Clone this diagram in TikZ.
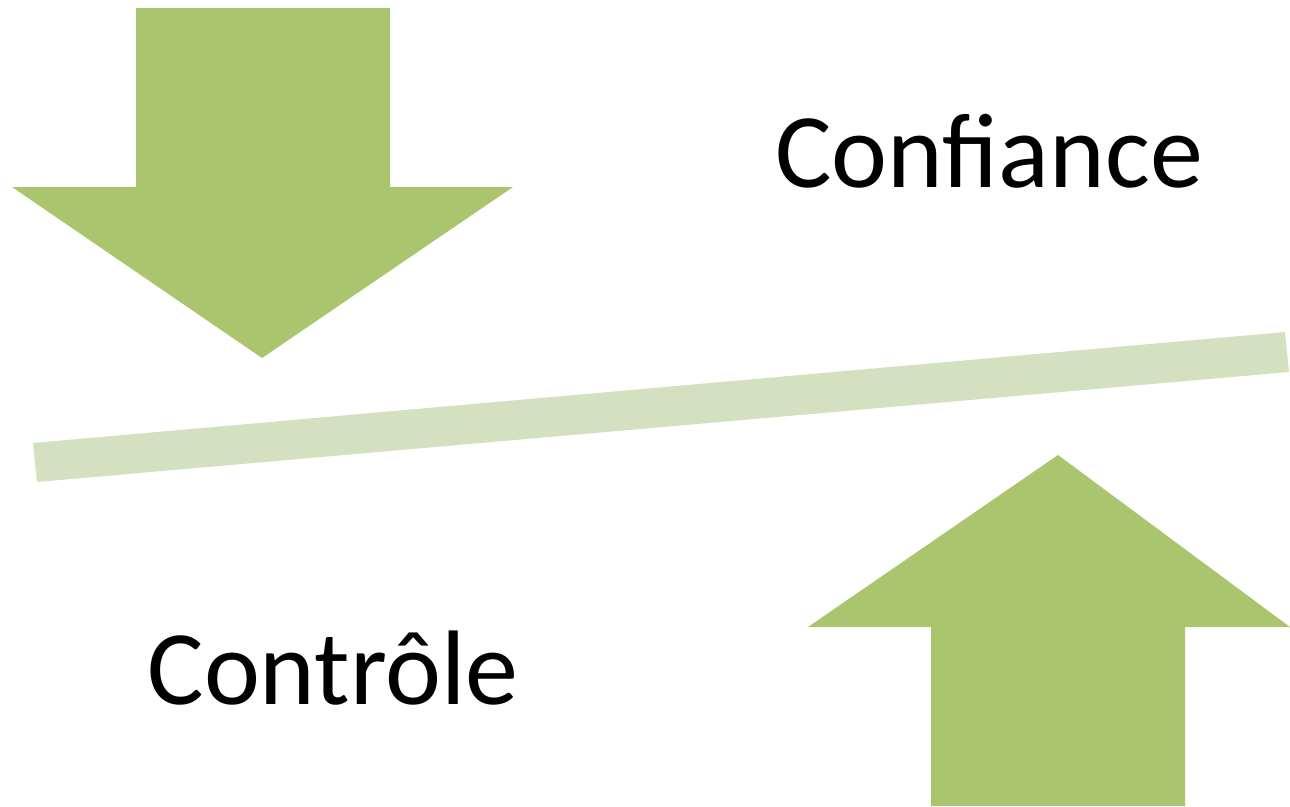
\documentclass[tikz,border=0pt]{standalone}
\usepackage{fontspec}
\setmainfont{Carlito}
\definecolor{arrowgreen}{HTML}{ABC46E}
\definecolor{bargreen}{HTML}{D4E0C0}
\begin{document}
\begin{tikzpicture}[x=1pt,y=-1pt,
  arrowshape/.style={fill=arrowgreen,draw=none},
  barshape/.style={fill=bargreen,draw=none},
  label/.style={font=\fontsize{106}{118}\selectfont,inner sep=0pt,anchor=base}]
\useasboundingbox (0,0) rectangle (1290,806);
\fill[arrowshape] (136,8) -- (390,8) -- (390,187) -- (513,187) -- (262,358) -- (12,187) -- (136,187) -- cycle;
\fill[barshape] (33,443) -- (1285,332) -- (1289,372) -- (37,482) -- cycle;
\fill[arrowshape] (1058,455) -- (1290,627) -- (1185,627) -- (1185,806) -- (931,806) -- (931,627) -- (808,627) -- cycle;
\node[label] (conf) at (989,187) {Confiance};
\node[label] (ctrl) at (333,704) {Contrôle};
\end{tikzpicture}
\end{document}
